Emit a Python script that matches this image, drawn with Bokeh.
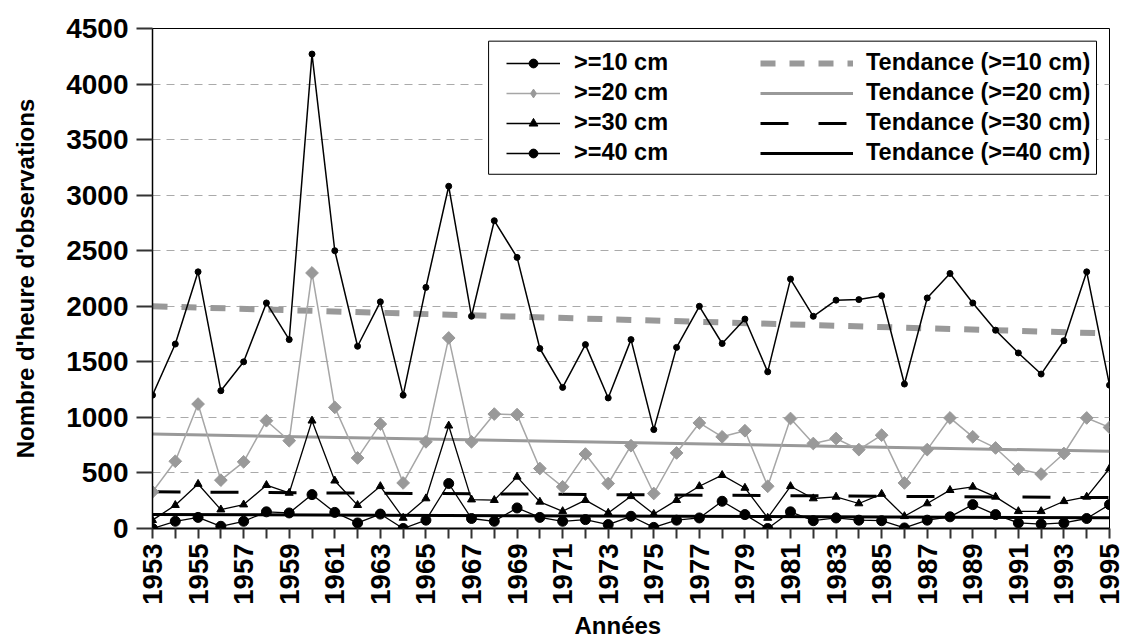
import math
from bokeh.plotting import figure
from bokeh.models import FixedTicker, Legend, LegendItem, BoxAnnotation, Range1d, Title
from bokeh.embed import file_html
from bokeh.resources import INLINE

years = list(range(1953, 1996))

h10 = [1200, 1660, 2310, 1240, 1500, 2030, 1700, 4270, 2500, 1640,
       2040, 1200, 2170, 3080, 1910, 2770, 2440, 1620, 1270, 1655,
       1175, 1700, 890, 1630, 2000, 1665, 1885, 1410, 2245, 1910,
       2055, 2060, 2095, 1300, 2075, 2295, 2030, 1785, 1580, 1390,
       1690, 2310, 1290]
h20 = [330, 605, 1120, 435, 600, 970, 790, 2300, 1090, 635,
       940, 410, 780, 1715, 780, 1030, 1025, 540, 375, 670,
       405, 745, 315, 680, 950, 825, 880, 380, 990, 765,
       810, 710, 840, 410, 710, 995, 825, 725, 535, 490,
       675, 995, 910]
h30 = [75, 210, 400, 170, 215, 390, 320, 970, 430, 210,
       380, 95, 270, 925, 260, 255, 465, 240, 155, 255,
       140, 290, 130, 255, 380, 480, 365, 95, 380, 270,
       285, 225, 310, 110, 225, 345, 375, 285, 155, 155,
       245, 285, 540]
h40 = [0, 65, 100, 20, 65, 150, 140, 305, 145, 50,
       130, 0, 75, 405, 90, 65, 185, 100, 65, 80,
       35, 110, 10, 75, 95, 245, 125, 0, 150, 70,
       95, 75, 70, 5, 75, 105, 215, 125, 50, 40,
       50, 90, 215]

trend_years = [1953, 1995]
t10 = [2000, 1755]
t20 = [850, 695]
t30 = [330, 278]
t40 = [127, 96]

y_ticks = [0, 500, 1000, 1500, 2000, 2500, 3000, 3500, 4000, 4500]
series_labels = [">=10 cm", ">=20 cm", ">=30 cm", ">=40 cm"]
trend_labels = ["Tendance (>=10 cm)", "Tendance (>=20 cm)",
                "Tendance (>=30 cm)", "Tendance (>=40 cm)"]
x_title = "Années"
y_title = "Nombre d'heure d'observations"

FONT = "Liberation Sans"

p = figure(width=1122, height=640, output_backend="svg", toolbar_location=None,
           x_range=Range1d(1953, 1995), y_range=Range1d(0, 4500))
p.min_border_left = 152
p.min_border_right = 13
p.min_border_top = 28
p.min_border_bottom = 112
p.background_fill_color = "white"
p.border_fill_color = "white"
p.outline_line_color = "black"
p.outline_line_width = 1

p.xgrid.visible = False
p.ygrid.ticker = FixedTicker(ticks=y_ticks)
p.ygrid.grid_line_color = "#aaaaaa"
p.ygrid.grid_line_dash = "8 6"
p.ygrid.grid_line_width = 1

# axes
yax = p.yaxis[0]
yax.ticker = FixedTicker(ticks=y_ticks)
yax.major_label_text_font = FONT
yax.major_label_text_font_style = "bold"
yax.major_label_text_font_size = "28px"
yax.major_label_text_color = "black"
yax.major_tick_out = 16
yax.major_tick_in = 0
yax.minor_tick_out = 0
yax.minor_tick_in = 0
yax.major_tick_line_color = "#333333"
yax.major_tick_line_width = 2
yax.axis_line_color = "black"
yax.axis_line_width = 1.5
yax.major_label_standoff = 8
yax.axis_label = y_title
yax.axis_label_text_font = FONT
yax.axis_label_text_font_style = "bold"
yax.axis_label_text_font_size = "24px"
yax.axis_label_text_color = "black"
yax.axis_label_standoff = 24

xax = p.xaxis[0]
xax.ticker = FixedTicker(ticks=years)
xax.major_label_overrides = {y: ("" if (y - 1953) % 2 else str(y)) for y in years}
xax.major_label_orientation = math.pi / 2
xax.major_label_text_font = FONT
xax.major_label_text_font_style = "bold"
xax.major_label_text_font_size = "27.5px"
xax.major_label_text_color = "black"
xax.major_tick_out = 10
xax.major_tick_in = 0
xax.minor_tick_out = 0
xax.minor_tick_in = 0
xax.major_tick_line_color = "#333333"
xax.major_tick_line_width = 2
xax.axis_line_color = "black"
xax.axis_line_width = 2
xax.major_label_standoff = 5

p.add_layout(Title(text=x_title, align="left", offset=422, standoff=4,
                   text_font=FONT, text_font_style="bold", text_font_size="24px",
                   text_color="black"), "below")

# trend lines
rt10 = p.line(trend_years, t10, line_color="#999999", line_width=6, line_dash="15 14")
rt20 = p.line(trend_years, t20, line_color="#999999", line_width=3)
rt30 = p.line(trend_years, t30, line_color="black", line_width=3, line_dash="28 30")
rt40 = p.line(trend_years, t40, line_color="black", line_width=3)

# series
l10 = p.line(years, h10, line_color="black", line_width=1.5)
m10 = p.scatter(years, h10, marker="circle", size=6, fill_color="black", line_color="black")
l20 = p.line(years, h20, line_color="#a6a6a6", line_width=1.5)
m20 = p.scatter(years, h20, marker="square", angle=math.pi / 4, size=9,
                fill_color="#999999", line_color="#999999")
l30 = p.line(years, h30, line_color="black", line_width=1.3)
m30 = p.scatter(years, h30, marker="triangle", size=8, fill_color="black", line_color="black")
l40 = p.line(years, h40, line_color="black", line_width=1.3)
m40 = p.scatter(years, h40, marker="circle", size=10, fill_color="black", line_color="black")

# hidden twin of the >=20 markers, used only for the legend swatch
# (legend swatches ignore marker angles, so a diamond is used there)
m20_leg = p.scatter(years, h20, marker="diamond", fill_color="#999999",
                    line_color="#999999", visible=False)

# legend frame
box = BoxAnnotation(left=1967.75, right=1994.43, top=4386, bottom=3188,
                    fill_color="white", fill_alpha=1.0,
                    line_color="black", line_width=1, line_alpha=1.0)
p.add_layout(box)

common = dict(label_text_font=FONT, label_text_font_style="bold",
              label_text_font_size="23.5px", label_text_color="black",
              glyph_height=22, label_height=26, spacing=3, padding=0, margin=0,
              border_line_alpha=0, background_fill_alpha=0, orientation="vertical",
              inactive_fill_alpha=0)

legA = Legend(items=[LegendItem(label=series_labels[0], renderers=[l10, m10]),
                     LegendItem(label=series_labels[1], renderers=[l20, m20_leg]),
                     LegendItem(label=series_labels[2], renderers=[l30, m30]),
                     LegendItem(label=series_labels[3], renderers=[l40, m40])],
              location=(354, 362), glyph_width=54, label_standoff=14, **common)
legB = Legend(items=[LegendItem(label=trend_labels[0], renderers=[rt10]),
                     LegendItem(label=trend_labels[1], renderers=[rt20]),
                     LegendItem(label=trend_labels[2], renderers=[rt30]),
                     LegendItem(label=trend_labels[3], renderers=[rt40])],
              location=(608, 362), glyph_width=93, label_standoff=13, **common)
p.add_layout(legA, "center")
p.add_layout(legB, "center")

open("out.html", "w").write(file_html(p, INLINE))
